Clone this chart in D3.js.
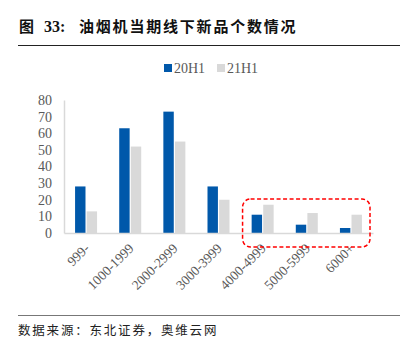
<!DOCTYPE html>
<html>
<head>
<meta charset="utf-8">
<script src="https://cdn.jsdelivr.net/npm/d3@7"></script>
<style>
  body { margin: 0; background: #fff; }
  svg { display: block; }
</style>
</head>
<body>
<div id="chart"></div>
<script>
// data
let categories = ["999-", "1000-1999", "2000-2999", "3000-3999", "4000-4999", "5000-5999", "6000+"]
let series = ["20H1", "21H1"]
let values20 = [28, 63, 73, 28, 11, 5, 3]
let values21 = [13, 52, 55, 20, 17, 12, 11]
let yTicks = [0, 10, 20, 30, 40, 50, 60, 70, 80]
let highlighted = ["4000-4999", "5000-5999", "6000+"]

let width = 409, height = 352
let colors = { "20H1": "#0058aa", "21H1": "#d9d9d9" }
let textGray = "#595959"
let serif = "'Liberation Serif', 'Times New Roman', serif"
let cjk = "'Noto Sans CJK SC', sans-serif"

let svg = d3.select('#chart').append('svg')
    .attr('width', width)
    .attr('height', height)

// title + rule
let title = svg.append('text')
    .attr('y', 32)
    .style('font-family', cjk)
    .style('font-weight', 'bold')
    .style('font-size', '15px')
    .attr('fill', '#111')
title.append('tspan').attr('x', 19).text('图')
title.append('tspan').attr('x', 44).style('font-family', serif).style('font-size', '16px').text('33:')
title.append('tspan').attr('x', 79).style('letter-spacing', '1.8px').text('油烟机当期线下新品个数情况')

svg.append('line')
    .attr('x1', 18).attr('x2', 400)
    .attr('y1', 45.5).attr('y2', 45.5)
    .attr('stroke', '#222').attr('stroke-width', 1)

// footer
svg.append('line')
    .attr('x1', 18).attr('x2', 400)
    .attr('y1', 315.5).attr('y2', 315.5)
    .attr('stroke', '#777').attr('stroke-width', 1.2)

svg.append('text')
    .attr('x', 18).attr('y', 335)
    .style('font-family', cjk)
    .style('font-size', '12.5px')
    .style('letter-spacing', '1.8px')
    .attr('fill', '#222')
    .text('数据来源：东北证券，奥维云网')

// scales
let x0 = d3.scaleBand().domain(categories).range([64, 373])
let x1 = d3.scaleBand().domain(series).range([x0.bandwidth() / 2 - 11, x0.bandwidth() / 2 + 11]).paddingInner(0.1)
let y = d3.scaleLinear().domain([0, 80]).range([233, 100])

// y axis
let yAxis = d3.axisLeft(y).tickValues(yTicks).tickSize(0).tickPadding(12)
let gy = svg.append('g')
    .attr('transform', 'translate(64,0)')
    .call(yAxis)
gy.select('.domain').attr('stroke', '#d9d9d9').attr('stroke-width', 1.5)
gy.selectAll('text')
    .attr('fill', textGray)
    .style('font-family', serif)
    .style('font-size', '14px')

// bars
let rows = categories.map((c, i) => ({ cat: c, vals: [{ s: "20H1", v: values20[i] }, { s: "21H1", v: values21[i] }] }))

let groups = svg.selectAll('.grp')
    .data(rows)
    .enter().append('g')
    .attr('class', 'grp')
    .attr('transform', d => 'translate(' + x0(d.cat) + ',0)')

groups.selectAll('rect')
    .data(d => d.vals)
    .enter().append('rect')
    .attr('x', d => x1(d.s))
    .attr('width', x1.bandwidth())
    .attr('y', d => y(d.v))
    .attr('height', d => y(0) - y(d.v))
    .attr('fill', d => colors[d.s])

// x axis
let xAxis = d3.axisBottom(x0).tickSize(0).tickPadding(6)
let gx = svg.append('g')
    .attr('transform', 'translate(0,' + y(0) + ')')
    .call(xAxis)
gx.select('.domain').attr('stroke', '#d9d9d9').attr('stroke-width', 1.5)
gx.selectAll('text')
    .attr('fill', textGray)
    .style('font-family', serif)
    .style('font-size', '13.5px')
    .style('text-anchor', 'end')
    .attr('dy', 0)
    .attr('transform', 'translate(0,12) rotate(-45)')

// legend
let legend = svg.append('g').attr('transform', 'translate(164,68)')
series.forEach((s, i) => {
    let lg = legend.append('g').attr('transform', 'translate(' + (i * 53) + ',0)')
    lg.append('rect')
        .attr('x', 0).attr('y', -4)
        .attr('width', 8).attr('height', 8)
        .attr('fill', colors[s])
    lg.append('text')
        .attr('x', 10).attr('y', 5)
        .attr('fill', textGray)
        .style('font-family', serif)
        .style('font-size', '14px')
        .text(s)
})

// red dashed highlight box around the high price bands
let hx0 = x0(highlighted[0]) + 2
let hx1 = x0(highlighted[highlighted.length - 1]) + x0.bandwidth() - 3
svg.append('rect')
    .attr('x', hx0).attr('y', 199)
    .attr('width', hx1 - hx0).attr('height', 48)
    .attr('rx', 8).attr('ry', 8)
    .attr('fill', 'none')
    .attr('stroke', '#ff0000')
    .attr('stroke-width', 1.5)
    .attr('stroke-dasharray', '4,2.5')
</script>
</body>
</html>
